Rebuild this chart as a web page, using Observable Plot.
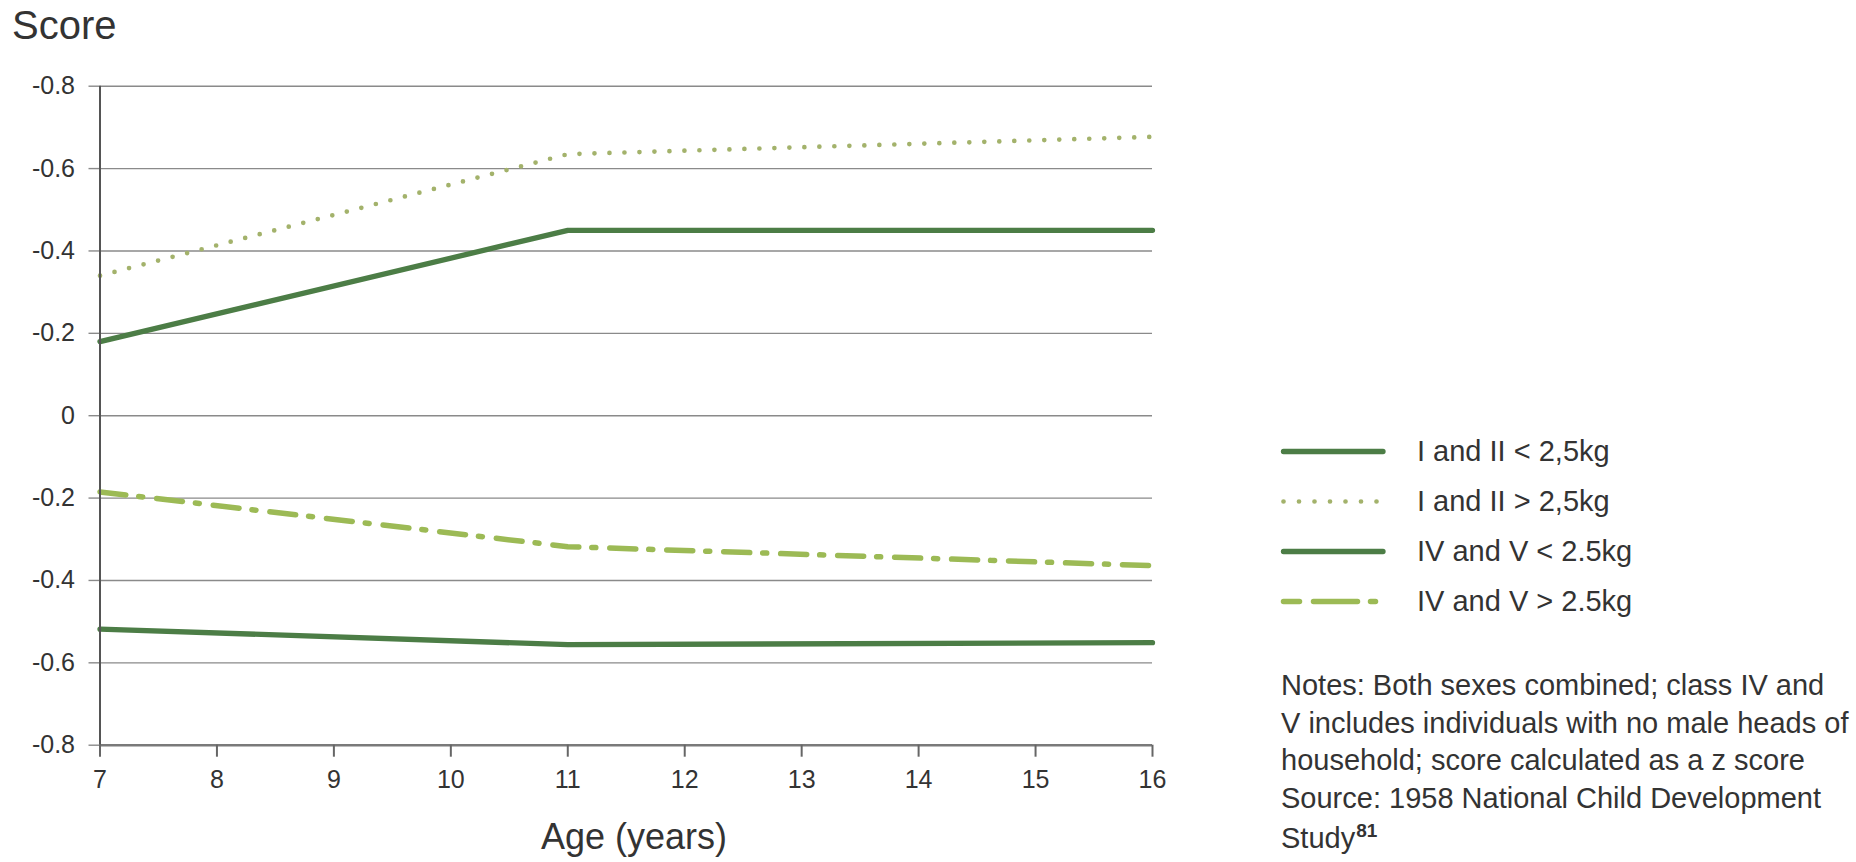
<!DOCTYPE html>
<html>
<head>
<meta charset="utf-8">
<script src="https://cdn.jsdelivr.net/npm/d3@7"></script>
<script src="https://cdn.jsdelivr.net/npm/@observablehq/plot@0.6"></script>
<style>
  html, body { margin: 0; padding: 0; background: #fff; }
  #wrap { position: relative; width: 1856px; height: 862px; overflow: hidden; background: #fff;
          font-family: "Liberation Sans", Arial, Helvetica, sans-serif; color: #333; }
  #wrap svg.plot { position: absolute; left: 0; top: 0; }
  .t { position: absolute; white-space: nowrap; line-height: 1; }
</style>
</head>
<body>
<div id="wrap"></div>
<script>
// ---- data ----
const ages = [7, 11, 16];
const xTicks = [7, 8, 9, 10, 11, 12, 13, 14, 15, 16];
const xTickLabels = ["7", "8", "9", "10", "11", "12", "13", "14", "15", "16"];
const yTicks = [0.8, 0.6, 0.4, 0.2, 0, -0.2, -0.4, -0.6, -0.8];
const yTickLabels = ["-0.8", "-0.6", "-0.4", "-0.2", "0", "-0.2", "-0.4", "-0.6", "-0.8"];
const seriesNames = ["I and II < 2,5kg", "I and II > 2,5kg", "IV and V < 2.5kg", "IV and V > 2.5kg"];
const s1 = [0.18, 0.45, 0.45];       // I and II < 2,5kg
const s2 = [0.34, 0.635, 0.677];     // I and II > 2,5kg
const s3 = [-0.518, -0.556, -0.551]; // IV and V < 2.5kg
const s4 = [-0.185, -0.318, -0.364]; // IV and V > 2.5kg
const yTitle = "Score";
const xTitle = "Age (years)";
const noteLines = [
  "Notes: Both sexes combined; class IV and",
  "V includes individuals with no male heads of",
  "household; score calculated as a z score",
  "Source: 1958 National Child Development",
  "Study"
];
const noteSup = "81";

// ---- styles ----
const darkGreen = "#4c7d46";
const dotGreen = "#a3b26b";
const dashGreen = "#9cba55";
const styles = [
  {stroke: darkGreen, strokeWidth: 5.3, strokeLinecap: "round"},
  {stroke: dotGreen, strokeWidth: 4.7, strokeDasharray: "0 15", strokeLinecap: "round"},
  {stroke: darkGreen, strokeWidth: 5.3, strokeLinecap: "round"},
  {stroke: dashGreen, strokeWidth: 5.5, strokeDasharray: "26 13 4 14", strokeLinecap: "round"}
];
const allSeries = [s1, s2, s3, s4];
const table = allSeries.map((s, k) => ages.map((a, i) => ({age: a, value: s[i], series: seriesNames[k]})));

const chart = Plot.plot({
  width: 1856,
  height: 862,
  marginLeft: 99.5,
  marginRight: 704,
  marginTop: 85.7,
  marginBottom: 117.3,
  x: {domain: [7, 16], axis: null},
  y: {domain: [-0.8, 0.8], axis: null},
  style: {fontFamily: "'Liberation Sans', Arial, Helvetica, sans-serif", color: "#333", background: "transparent"},
  marks: [
    Plot.ruleY(yTicks.filter(v => v !== -0.8), {x1: 7, x2: 16, stroke: "#8a8a8a", strokeWidth: 1.4}),
    Plot.axisY(yTicks, {
      tickSize: 11, tickPadding: 14, fontSize: 25,
      tickFormat: d => yTickLabels[yTicks.indexOf(d)],
      stroke: "#8a8a8a", strokeWidth: 1.4, fill: "#333", label: null
    }),
    ...table.map((rows, k) => Plot.line(rows, {x: "age", y: "value", ...styles[k]})),
    Plot.ruleY([-0.8], {x1: 7, x2: 16, stroke: "#7a7a7a", strokeWidth: 2.6}),
    Plot.ruleX([7], {y1: -0.8, y2: 0.8, stroke: "#555", strokeWidth: 2}),
    Plot.axisX(xTicks, {
      tickSize: 12, tickPadding: 13, fontSize: 25,
      tickFormat: d => xTickLabels[xTicks.indexOf(d)],
      stroke: "#666", strokeWidth: 2, fill: "#333", label: null
    })
  ]
});
chart.classList.add("plot");
const wrap = document.getElementById("wrap");
wrap.appendChild(chart);

// ---- text helpers (line-height 1, baseline ≈ top + 0.8465*fs) ----
function addText(str, left, baseline, fs, extra = {}) {
  const d = document.createElement("div");
  d.className = "t";
  d.textContent = str;
  d.style.left = left + "px";
  d.style.top = (baseline - 0.8465 * fs) + "px";
  d.style.fontSize = fs + "px";
  Object.assign(d.style, extra);
  wrap.appendChild(d);
  return d;
}

addText(yTitle, 12, 39, 40);
addText(xTitle, 541, 849, 36);

// ---- legend ----
const legendBase = [461.7, 511.7, 561.7, 611.7];
const legendLineY = [451.5, 501.5, 551.5, 601.5];
const ns = "http://www.w3.org/2000/svg";
const lsvg = document.createElementNS(ns, "svg");
lsvg.setAttribute("width", 1856);
lsvg.setAttribute("height", 862);
lsvg.style.position = "absolute";
lsvg.style.left = "0px";
lsvg.style.top = "0px";
const legendDash = [null, "0 15.5", null, "16 14 44 13 5"];
seriesNames.forEach((name, k) => {
  const ln = document.createElementNS(ns, "line");
  const st = styles[k];
  ln.setAttribute("x1", 1283.5);
  ln.setAttribute("x2", 1383);
  ln.setAttribute("y1", legendLineY[k]);
  ln.setAttribute("y2", legendLineY[k]);
  ln.setAttribute("stroke", st.stroke);
  ln.setAttribute("stroke-width", st.strokeWidth);
  ln.setAttribute("stroke-linecap", "round");
  if (legendDash[k]) ln.setAttribute("stroke-dasharray", legendDash[k]);
  lsvg.appendChild(ln);
  addText(name, 1417, legendBase[k], 29);
});
wrap.appendChild(lsvg);

// ---- notes ----
const noteFs = 29, noteLH = 37.5, noteFirstBase = 696;
noteLines.forEach((line, i) => {
  const d = addText(line, 1281, noteFirstBase + i * noteLH, noteFs);
  if (i === noteLines.length - 1) {
    const sup = document.createElement("span");
    sup.textContent = noteSup;
    sup.style.fontSize = "19px";
    sup.style.fontWeight = "bold";
    sup.style.verticalAlign = "11px";
    sup.style.marginLeft = "1px";
    d.appendChild(sup);
  }
});
</script>
</body>
</html>
